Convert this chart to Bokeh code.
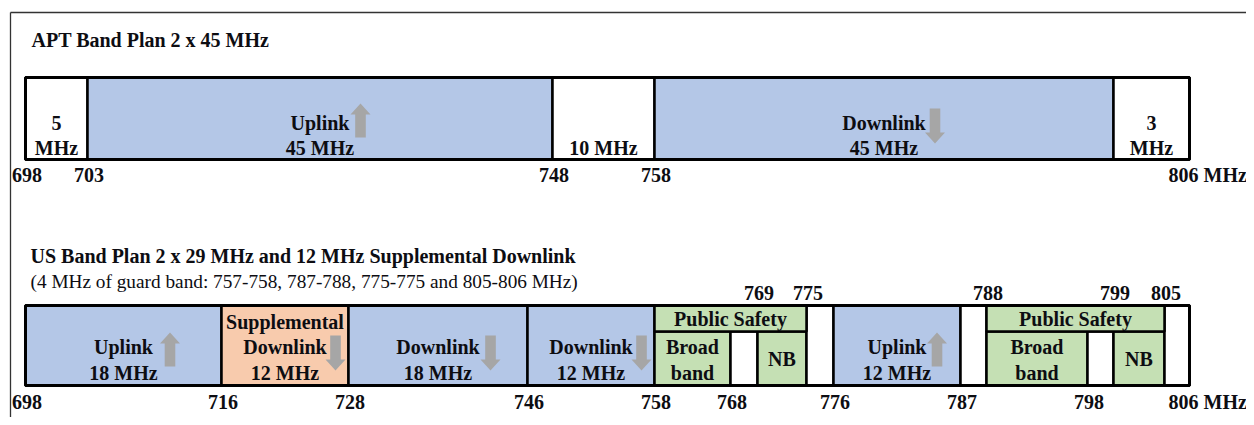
from bokeh.plotting import figure
from bokeh.models import Range1d, ColumnDataSource
from bokeh.core.properties import value
from bokeh.embed import file_html
from bokeh.resources import INLINE

# ---------------- data ----------------
apt_title = "APT Band Plan 2 x 45 MHz"
apt_start = [698, 703, 748, 758, 803]
apt_end = [703, 748, 758, 803, 806]
apt_label = ["5\nMHz", "Uplink\n45 MHz", "10 MHz", "Downlink\n45 MHz", "3\nMHz"]
apt_kind = ["guard", "uplink", "guard", "downlink", "guard"]
apt_ticks = [698, 703, 748, 758, 806]

us_title = "US Band Plan 2 x 29 MHz and 12 MHz Supplemental Downlink"
us_subtitle = "(4 MHz of guard band: 757-758, 787-788, 775-775 and 805-806 MHz)"
us_start = [698, 716, 728, 746, 758, 768, 769, 775, 776, 787, 788, 798, 799, 805]
us_end = [716, 728, 746, 758, 768, 769, 775, 776, 787, 788, 798, 799, 805, 806]
us_label = ["Uplink\n18 MHz", "Supplemental\nDownlink\n12 MHz", "Downlink\n18 MHz",
            "Downlink\n12 MHz", "Broad\nband", "", "NB", "", "Uplink\n12 MHz", "",
            "Broad\nband", "", "NB", ""]
us_kind = ["uplink", "sdl", "downlink", "downlink", "ps", "guard", "ps", "guard",
           "uplink", "guard", "ps", "guard", "ps", "guard"]
ps_start = [758, 788]
ps_end = [775, 805]
ps_label = ["Public Safety", "Public Safety"]
us_ticks_below = [698, 716, 728, 746, 758, 768, 776, 787, 798, 806]
us_ticks_above = [769, 775, 788, 799, 805]
unit = "MHz"

# ---------------- layout (schematic positions, pixels) ----------------
APT_X = {698: 25, 703: 87, 748: 552, 758: 654, 803: 1113, 806: 1189}
US_X = {698: 25, 716: 221, 728: 348, 746: 527, 758: 654, 768: 730, 769: 757,
        775: 806, 776: 833, 787: 960, 788: 986, 798: 1087, 799: 1113, 805: 1164, 806: 1189}
APT_TOP, APT_BOT = 77, 159
US_TOP, US_BOT, PS_SPLIT = 305, 385, 331
LINE = 25.5
FILL = {"uplink": "#B4C7E7", "downlink": "#B4C7E7", "sdl": "#F8CBAD",
        "ps": "#C5E0B4", "guard": "#FFFFFF"}
ARROW_COLOR = "#A6A6A6"
TXT = "#0D0D12"
FONT = value("Liberation Serif")
APT_ARROW_DX = {1: 40.5, 3: 51}
US_ARROW_DX = {0: 46.5, 1: 50.5, 2: 52.5, 3: 50.5, 8: 40}

p = figure(width=1246, height=417, x_range=Range1d(0, 1246), y_range=Range1d(417, 0),
           output_backend="svg", toolbar_location=None, min_border=0,
           x_axis_location=None, y_axis_location=None, outline_line_color=None)
p.grid.visible = False
p.background_fill_color = "white"
p.border_fill_color = "white"

# frame lines (top and left)
p.segment(x0=[10, 10], y0=[12, 12], x1=[1254, 10], y1=[12, 425],
          line_color="#333333", line_width=1.3)


def arrow(cx, top, bot, up):
    hw, sw, hh = 10, 5.3, 11
    if up:
        xs = [cx, cx + hw, cx + sw, cx + sw, cx - sw, cx - sw, cx - hw]
        ys = [top, top + hh, top + hh, bot, bot, top + hh, top + hh]
    else:
        xs = [cx, cx + hw, cx + sw, cx + sw, cx - sw, cx - sw, cx - hw]
        ys = [bot, bot - hh, bot - hh, top, top, bot - hh, bot - hh]
    return xs, ys


texts_c = {"x": [], "y": [], "t": []}
texts_l = {"x": [], "y": [], "t": []}
texts_reg = {"x": [], "y": [], "t": []}
arr_xs, arr_ys = [], []


def band_text(label, kind, cx, top, bot, y_last):
    lines = label.split("\n") if label else []
    if not lines:
        return []
    if len(lines) == 1 and kind == "ps":
        ys = [(top + bot) / 2]
    else:
        ys = [y_last - (len(lines) - 1 - i) * LINE for i in range(len(lines))]
    for ln, yy in zip(lines, ys):
        texts_c["x"].append(cx)
        texts_c["y"].append(yy)
        texts_c["t"].append(ln)
    return ys


# ---- APT row ----
apt_l = [APT_X[s] for s in apt_start]
apt_r = [APT_X[e] for e in apt_end]
p.quad(left=apt_l, right=apt_r, top=[APT_TOP] * len(apt_l), bottom=[APT_BOT] * len(apt_l),
       fill_color=[FILL[k] for k in apt_kind], line_color="black", line_width=2.5)
p.quad(left=[apt_l[0]], right=[apt_r[-1]], top=[APT_TOP], bottom=[APT_BOT],
       fill_alpha=0, line_color="black", line_width=3)
for i, (lab, k) in enumerate(zip(apt_label, apt_kind)):
    cx = (apt_l[i] + apt_r[i]) / 2
    band_text(lab, k, cx, APT_TOP, APT_BOT, 147.5)
    if i in APT_ARROW_DX:
        up = k == "uplink"
        xs, ys = arrow(cx + APT_ARROW_DX[i], 103 if up else 108, 137 if up else 143, up)
        arr_xs.append(xs)
        arr_ys.append(ys)
for t in apt_ticks:
    if t == apt_ticks[-1]:
        texts_l["x"].append(APT_X[t] - 21)
        texts_l["y"].append(174)
        texts_l["t"].append(f"{t} {unit}")
    else:
        texts_c["x"].append(APT_X[t] + 1.5)
        texts_c["y"].append(174)
        texts_c["t"].append(str(t))

# ---- US row ----
us_l = [US_X[s] for s in us_start]
us_r = [US_X[e] for e in us_end]
us_top = [PS_SPLIT if k == "ps" or (k == "guard" and any(a <= s < b for a, b in zip(ps_start, ps_end))) else US_TOP
          for s, k in zip(us_start, us_kind)]
p.quad(left=us_l, right=us_r, top=us_top, bottom=[US_BOT] * len(us_l),
       fill_color=[FILL[k] for k in us_kind], line_color="black", line_width=2.5)
ps_l = [US_X[s] for s in ps_start]
ps_r = [US_X[e] for e in ps_end]
p.quad(left=ps_l, right=ps_r, top=[US_TOP] * 2, bottom=[PS_SPLIT] * 2,
       fill_color=FILL["ps"], line_color="black", line_width=2.5)
p.quad(left=[us_l[0]], right=[us_r[-1]], top=[US_TOP], bottom=[US_BOT],
       fill_alpha=0, line_color="black", line_width=3)
for i, (lab, k) in enumerate(zip(us_label, us_kind)):
    top = us_top[i]
    cx = (us_l[i] + us_r[i]) / 2
    band_text(lab, k, cx, top, US_BOT, 372)
    if i in US_ARROW_DX:
        up = k == "uplink"
        xs, ys = arrow(cx + US_ARROW_DX[i], 332 if up else 335, 366 if up else 370, up)
        arr_xs.append(xs)
        arr_ys.append(ys)
for a, b, lab in zip(ps_l, ps_r, ps_label):
    texts_c["x"].append((a + b) / 2)
    texts_c["y"].append((US_TOP + PS_SPLIT) / 2)
    texts_c["t"].append(lab)
for t in us_ticks_below:
    if t == us_ticks_below[-1]:
        texts_l["x"].append(US_X[t] - 21)
        texts_l["y"].append(401)
        texts_l["t"].append(f"{t} {unit}")
    else:
        texts_c["x"].append(US_X[t] + 1.5)
        texts_c["y"].append(401)
        texts_c["t"].append(str(t))
for t in us_ticks_above:
    texts_c["x"].append(US_X[t] + 1.5)
    texts_c["y"].append(292)
    texts_c["t"].append(str(t))

# titles
texts_l["x"] += [31, 30]
texts_l["y"] += [39, 255]
texts_l["t"] += [apt_title, us_title]
texts_reg["x"].append(30)
texts_reg["y"].append(281)
texts_reg["t"].append(us_subtitle)

p.patches(xs=arr_xs, ys=arr_ys, fill_color=ARROW_COLOR, line_color=None)

common = dict(text_font=FONT, text_color=TXT, text_baseline="middle")
p.text(x="x", y="y", text="t", source=ColumnDataSource(texts_c), text_align="center",
       text_font_size="20px", text_font_style="bold", **common)
p.text(x="x", y="y", text="t", source=ColumnDataSource(texts_l), text_align="left",
       text_font_size="20px", text_font_style="bold", **common)
p.text(x="x", y="y", text="t", source=ColumnDataSource(texts_reg), text_align="left",
       text_font_size="19.3px", text_font_style="normal", **common)

open("out.html", "w").write(file_html(p, INLINE))
